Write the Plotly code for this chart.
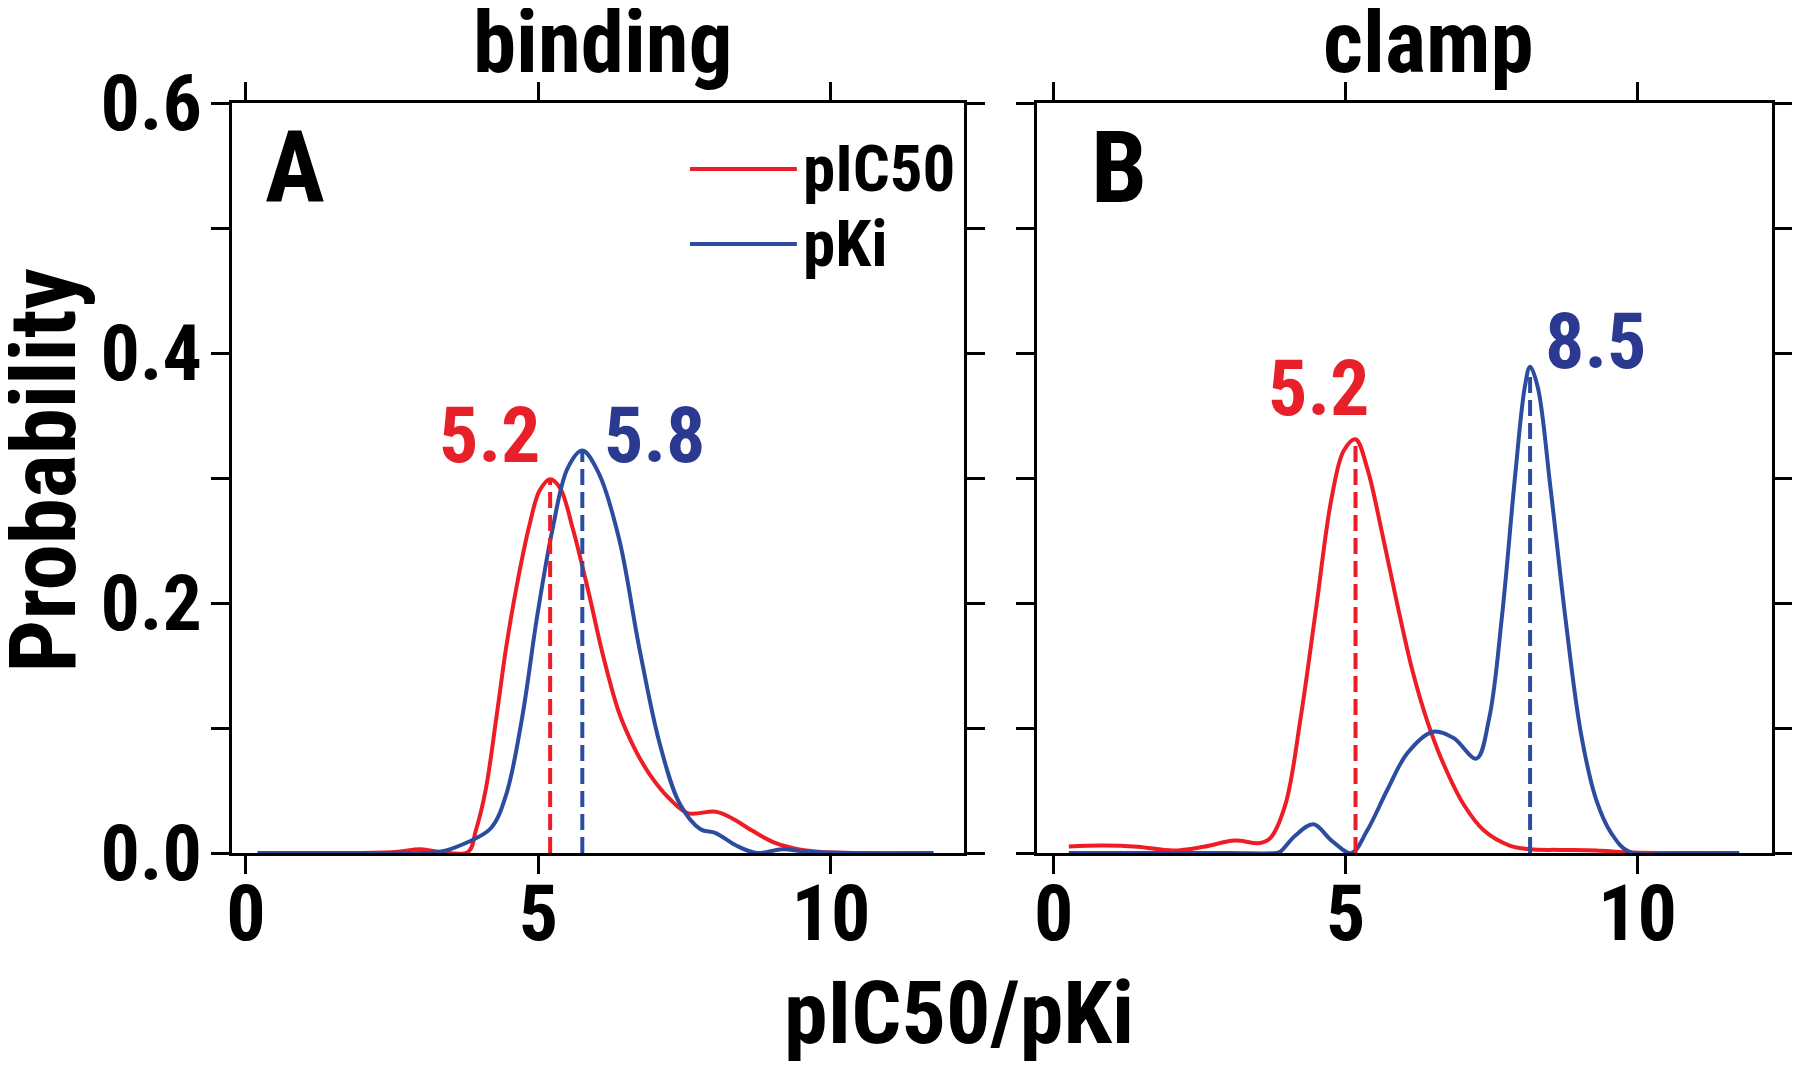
import plotly.graph_objects as go

FONT = "Roboto Condensed, Open Sans Condensed, Liberation Sans, Arial, sans-serif"
RED = "#ee1c25"
BLUE = "#2b4c9f"
RED_TXT = "#e8202a"
BLUE_TXT = "#2b3990"

panel_titles = ["binding", "clamp"]
panel_letters = ["A", "B"]
series_names = ["pIC50", "pKi"]
x_ticks = [0, 5, 10]
y_ticks = [0.0, 0.1, 0.2, 0.3, 0.4, 0.5, 0.6]
y_ticktext = ["0.0", "", "0.2", "", "0.4", "", "0.6"]
axis_title_x = "pIC50/pKi"
axis_title_y = "Probability"

# Panel A (binding)
binding_ic50_x = [0.2, 1.0, 2.0, 2.6, 2.97, 3.3, 3.8, 3.93, 4.1, 4.28, 4.45, 4.63, 4.85, 5.02, 5.2,
                  5.37, 5.59, 5.85, 6.11, 6.38, 6.64, 6.9, 7.25, 7.55, 8.03, 8.3, 8.65, 9.0, 9.34,
                  9.78, 10.5, 11.75]
binding_ic50_y = [0.0, 0.0, 0.0, 0.001, 0.003, 0.001, 0.001, 0.018, 0.051, 0.108, 0.165, 0.214,
                  0.263, 0.29, 0.299, 0.292, 0.259, 0.21, 0.157, 0.112, 0.084, 0.063, 0.043, 0.032,
                  0.033, 0.028, 0.018, 0.009, 0.004, 0.001, 0.0, 0.0]
binding_ki_x = [0.2, 1.0, 2.0, 3.0, 3.32, 3.76, 4.19, 4.45, 4.72, 4.98, 5.24, 5.5, 5.75, 6.03,
                6.38, 6.72, 7.07, 7.42, 7.77, 8.03, 8.38, 8.73, 9.17, 9.6, 10.5, 11.75]
binding_ki_y = [0.0, 0.0, 0.0, 0.0, 0.001, 0.008, 0.02, 0.047, 0.108, 0.19, 0.259, 0.308, 0.322,
                0.304, 0.251, 0.165, 0.088, 0.039, 0.019, 0.016, 0.006, 0.0, 0.003, 0.001, 0.0, 0.0]

# Panel B (clamp)
clamp_ic50_x = [0.26, 0.83, 1.44, 2.05, 2.57, 3.1, 3.53, 3.71, 3.97, 4.23, 4.49, 4.76, 4.97, 5.17,
                5.37, 5.63, 5.89, 6.15, 6.41, 6.68, 7.02, 7.37, 7.81, 8.16, 8.68, 9.29, 9.9, 10.8,
                11.74]
clamp_ic50_y = [0.0053, 0.006, 0.005, 0.002, 0.005, 0.01, 0.008, 0.012, 0.039, 0.108, 0.194, 0.284,
                0.322, 0.331, 0.308, 0.255, 0.198, 0.145, 0.104, 0.071, 0.039, 0.018, 0.006, 0.003,
                0.0025, 0.002, 0.0004, 0.0, 0.0]
clamp_ki_x = [0.26, 1.5, 3.0, 3.8, 3.88, 4.14, 4.45, 4.76, 5.1, 5.37, 5.72, 6.06, 6.5, 6.85, 7.24,
              7.46, 7.68, 7.9, 8.07, 8.16, 8.29, 8.51, 8.77, 9.03, 9.29, 9.55, 9.86, 10.8, 11.74]
clamp_ki_y = [0.0, 0.0, 0.0, 0.0, 0.001, 0.014, 0.023, 0.01, 0.0, 0.018, 0.051, 0.08, 0.097, 0.092,
              0.0755, 0.108, 0.19, 0.3, 0.373, 0.389, 0.373, 0.292, 0.186, 0.096, 0.043, 0.016,
              0.001, 0.0, 0.0]

# Peak markers (dashed lines) and their labels
peak_x = {"binding": [5.2, 5.75], "clamp": [5.17, 8.16]}
peak_y = {"binding": [0.299, 0.322], "clamp": [0.331, 0.389]}
peak_labels = {"binding": ["5.2", "5.8"], "clamp": ["5.2", "8.5"]}
peak_label_pos_x = {"binding": [4.18, 6.99], "clamp": [4.54, 9.29]}
peak_label_pos_y = {"binding": [0.334, 0.334], "clamp": [0.372, 0.409]}

curves = {
    "binding": [(binding_ic50_x, binding_ic50_y), (binding_ki_x, binding_ki_y)],
    "clamp": [(clamp_ic50_x, clamp_ic50_y), (clamp_ki_x, clamp_ki_y)],
}
line_colors = [RED, BLUE]
label_colors = [RED_TXT, BLUE_TXT]

fig = go.Figure()
for p, key in enumerate(["binding", "clamp"]):
    xa = "x" if p == 0 else "x2"
    ya = "y" if p == 0 else "y2"
    for s, (xs, ys) in enumerate(curves[key]):
        fig.add_trace(go.Scatter(
            x=xs, y=ys, mode="lines", name=series_names[s], showlegend=False,
            line=dict(color=line_colors[s], width=4, shape="spline", smoothing=1.0),
            xaxis=xa, yaxis=ya))
    for s in range(2):
        fig.add_trace(go.Scatter(
            x=[peak_x[key][s], peak_x[key][s]], y=[0, peak_y[key][s]], mode="lines",
            showlegend=False, line=dict(color=line_colors[s], width=4, dash="16px,7px"),
            xaxis=xa, yaxis=ya))

annotations = []
shapes = []
# the page body adds an 8px offset, so layout positions are measured from (8, 8)
dom_x = [[0.1242, 0.5310], [0.5715, 0.9799]]
dom_y = [0.2095, 0.9111]
title_x = [0.330, 0.7889]
for p, key in enumerate(["binding", "clamp"]):
    xr = "x" if p == 0 else "x2"
    yr = "y" if p == 0 else "y2"
    annotations.append(dict(text=panel_titles[p], x=title_x[p], y=0.9682, xref="paper", yref="paper",
                            xanchor="center", yanchor="middle", showarrow=False,
                            font=dict(family=FONT, size=87, color="black", weight="bold")))
    annotations.append(dict(text=panel_letters[p], x=[0.0866, 0.112][p], y=0.914,
                            xref=xr + " domain", yref=yr + " domain",
                            xanchor="center", yanchor="middle", showarrow=False,
                            font=dict(family=FONT, size=100, color="black", weight="bold")))
    for s in range(2):
        annotations.append(dict(text=peak_labels[key][s], x=peak_label_pos_x[key][s],
                                y=peak_label_pos_y[key][s], xref=xr, yref=yr,
                                xanchor="center", yanchor="middle", showarrow=False,
                                font=dict(family=FONT, size=78, color=label_colors[s], weight="bold")))

# legend (panel A)
leg_y = [0.912, 0.812]
for s in range(2):
    shapes.append(dict(type="line", xref="x domain", yref="y domain", x0=0.626, x1=0.772,
                       y0=leg_y[s], y1=leg_y[s], line=dict(color=line_colors[s], width=4)))
    annotations.append(dict(text=series_names[s], x=0.778, y=leg_y[s], xref="x domain",
                            yref="y domain", xanchor="left", yanchor="middle", showarrow=False,
                            font=dict(family=FONT, size=65, color="black", weight="bold")))

annotations.append(dict(text=axis_title_x, x=0.5283, y=0.0608, xref="paper", yref="paper",
                        xanchor="center", yanchor="middle", showarrow=False,
                        font=dict(family=FONT, size=88, color="black", weight="bold")))
annotations.append(dict(text=axis_title_y, x=0.0197, y=0.5678, xref="paper", yref="paper",
                        xanchor="center", yanchor="middle", showarrow=False, textangle=-90,
                        font=dict(family=FONT, size=93, color="black", weight="bold")))

axis_common = dict(showline=True, linecolor="black", linewidth=3, mirror="allticks",
                   ticks="outside", ticklen=18, tickwidth=3, tickcolor="black",
                   showgrid=False, zeroline=False, automargin=False,
                   tickfont=dict(family=FONT, size=78, color="black", weight="bold"))

fig.update_layout(
    template="none",
    width=1800, height=1069,
    margin=dict(l=0, r=0, t=0, b=0, pad=0),
    paper_bgcolor="white", plot_bgcolor="white",
    showlegend=False,
    xaxis=dict(domain=dom_x[0], range=[-0.245, 12.27], tickvals=x_ticks, anchor="y",
               ticklabelstandoff=-28, **axis_common),
    yaxis=dict(domain=dom_y, range=[0, 0.6], tickvals=y_ticks, ticktext=y_ticktext, anchor="x",
               ticklabelstandoff=-7, **axis_common),
    xaxis2=dict(domain=dom_x[1], range=[-0.29, 12.30], tickvals=x_ticks, anchor="y2",
                ticklabelstandoff=-28, **axis_common),
    yaxis2=dict(domain=dom_y, range=[0, 0.6], tickvals=y_ticks, showticklabels=False, anchor="x2",
                **axis_common),
    annotations=annotations,
    shapes=shapes,
)

fig.write_html("out.html")
